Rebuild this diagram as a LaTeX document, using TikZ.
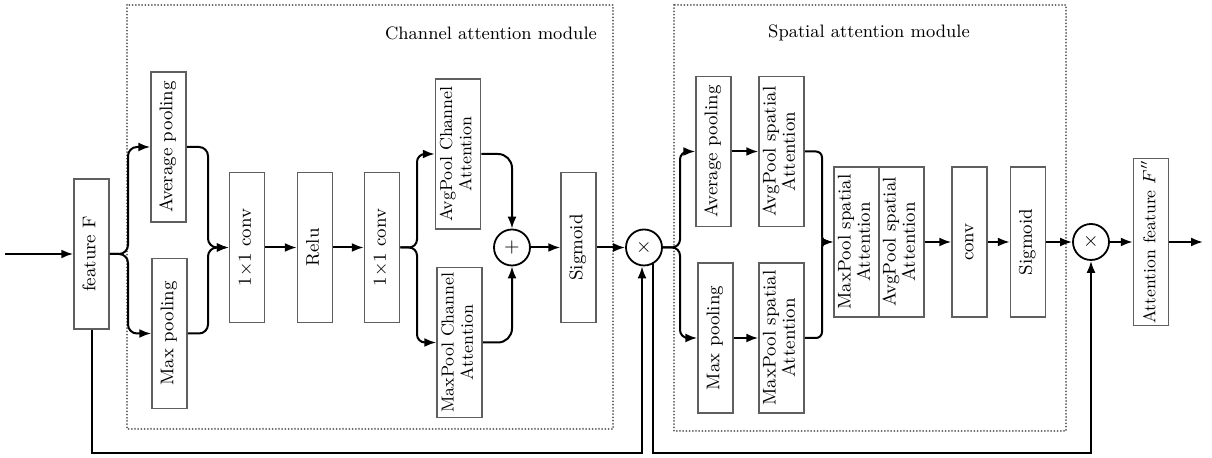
\documentclass[tikz,border=0pt]{standalone}
\usepackage{graphicx}
\usetikzlibrary{arrows.meta}
\definecolor{boxgray}{RGB}{95,95,95}
\definecolor{dotgray}{RGB}{90,90,90}
\newcommand{\rt}[1]{\rotatebox{90}{\begin{tabular}{@{}c@{}}#1\end{tabular}}}
\begin{document}
\begin{tikzpicture}[x=0.5pt,y=-0.5pt,
  box/.style={draw=boxgray,line width=0.75pt,inner sep=0pt,minimum width=17.5pt,minimum height=75pt,font=\fontsize{9.2}{9.6}\selectfont},
  widebox/.style={box,minimum width=22.5pt},
  smalltext/.style={font=\fontsize{8.7}{9.6}\selectfont},
  opnode/.style={draw,circle,line width=0.9pt,inner sep=0pt,minimum size=18pt,font=\fontsize{10}{10}\selectfont},
  conn/.style={line width=1pt,rounded corners=4.5pt},
  arr/.style={conn,-{Latex[length=6pt,width=4.5pt]}},
  module/.style={draw=dotgray,line width=1pt,line cap=round,dash pattern=on 0pt off 1.6pt},
  title/.style={font=\fontsize{9}{10}\selectfont}]
\useasboundingbox (0,0) rectangle (1212,458);
% modules
\draw[module] (127,5) rectangle (613,429);
\draw[module] (674,5) rectangle (1066,431);
\node[title] (t1) at (491,33) {Channel attention module};
\node[title] (t2) at (869,33) {Spatial attention module};
% nodes
\coordinate (in) at (5,254);
\node[box] (F) at (91.5,254) {\rt{feature F}};
\node[box] (avg) at (168.5,147) {\rt{Average pooling}};
\node[box] (max) at (169.5,333.5) {\rt{Max pooling}};
\node[box] (conv1) at (247,247.5) {\rt{1$\times$1 conv}};
\node[box] (relu) at (315,247.5) {\rt{Relu}};
\node[box] (conv2) at (382,247.5) {\rt{1$\times$1 conv}};
\node[widebox,smalltext] (aca) at (458,154) {\rt{AvgPool Channel\\Attention}};
\node[widebox,smalltext] (mca) at (459.5,342.5) {\rt{MaxPool Channel\\Attention}};
\node[opnode] (plus) at (512,247.5) {$+$};
\node[box] (sig1) at (578.5,247.5) {\rt{Sigmoid}};
\node[opnode] (c1) at (644,247.5) {$\times$};
\node[box] (savg) at (713.5,151.5) {\rt{Average pooling}};
\node[box] (smax) at (715.5,338) {\rt{Max pooling}};
\node[widebox] (asa) at (781.5,151.5) {\rt{AvgPool spatial\\Attention}};
\node[widebox] (msa) at (781.5,338) {\rt{MaxPool spatial\\Attention}};
\node[widebox] (cm) at (856.5,242) {\rt{MaxPool spatial\\Attention}};
\node[widebox] (ca) at (901.5,242) {\rt{AvgPool spatial\\Attention}};
\node[box] (conv) at (969.5,242) {\rt{conv}};
\node[box] (sig2) at (1028,242) {\rt{Sigmoid}};
\node[opnode] (c2) at (1091,242) {$\times$};
\node[box,minimum height=83.5pt,font=\fontsize{8.6}{9.6}\selectfont] (af) at (1151,242) {\rt{Attention feature $F''$}};
\coordinate (out) at (1203,242);
% channel connectors
\draw[arr] (in) -- (F.west);
\draw[arr] (F.east) -- (128,254) |- (avg.west);
\draw[arr] (F.east) -- (128,254) |- (max.west);
\draw[arr] (avg.east) -| (208,247.5) -- (conv1.west);
\draw[arr] (max.east) -| (208,247.5) -- (conv1.west);
\draw[arr] (conv1) -- (relu);
\draw[arr] (relu) -- (conv2);
\draw[arr,rounded corners=4pt] (conv2.east) -- (417,247.5) |- (aca.west);
\draw[arr,rounded corners=4pt] (conv2.east) -- (417,247.5) |- (mca.west);
\draw[arr,rounded corners=7pt] (aca.east) -| (plus.north);
\draw[arr,rounded corners=7pt] (mca.east) -| (plus.south);
\draw[arr] (plus) -- (sig1);
\draw[arr] (sig1) -- (c1);
% spatial connectors
\draw[arr,rounded corners=4pt] (c1.east) -- (680,247.5) |- (savg.west);
\draw[arr,rounded corners=4pt] (c1.east) -- (680,247.5) |- (smax.west);
\draw[arr] (savg) -- (asa);
\draw[arr] (smax) -- (msa);
\draw[arr,rounded corners=3pt] (asa.east) -| (822,242) -- (cm.west);
\draw[arr,rounded corners=3pt] (msa.east) -| (822,242) -- (cm.west);
\draw[arr] (ca) -- (conv);
\draw[arr] (conv) -- (sig2);
\draw[arr] (sig2) -- (c2);
\draw[arr] (c2) -- (af);
\draw[arr] (af) -- (out);
% skip connections
\coordinate (b1) at (642,453);
\coordinate (b2) at (653,453);
\draw[arr,rounded corners=0pt] (F.south) |- (b1) -- (b1 |- c1.south);
\draw[arr,rounded corners=0pt] (c1.-62) -- (c1.-62 |- b2) -| (c2.south);
\end{tikzpicture}
\end{document}
